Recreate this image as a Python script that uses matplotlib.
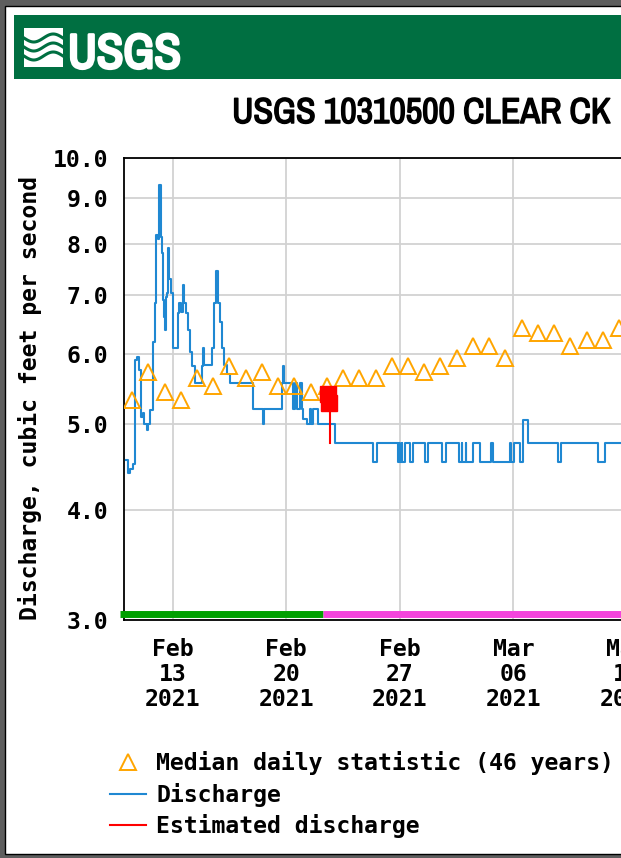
import numpy as np
import pandas as pd
import matplotlib
matplotlib.use("Agg")
import matplotlib.pyplot as plt
import matplotlib.dates as mdates
from matplotlib import font_manager, patheffects
from matplotlib.font_manager import FontProperties
from matplotlib.lines import Line2D
from matplotlib.patches import Rectangle
from matplotlib.ticker import NullLocator


W, H = 621, 858
start = pd.Timestamp("2021-02-10")

# Discharge, 15-min record (days after Feb 10 00:00, cfs)
q_days = [0.10, 0.25, 0.40, 0.55, 0.68, 0.82, 0.92, 1.05, 1.15, 1.25, 1.40, 1.50,
          1.60, 1.77, 1.88, 1.97, 2.08, 2.18, 2.26, 2.32, 2.38, 2.45, 2.52, 2.60,
          2.65, 2.73, 2.80, 2.88, 3.00, 3.30, 3.40, 3.50, 3.62, 3.70, 3.80, 3.93,
          4.05, 4.17, 4.37, 4.78, 4.85, 4.95, 5.45, 5.55, 5.68, 5.78, 5.90, 6.01,
          6.15, 6.35, 6.53, 7.96, 8.55, 8.62, 9.71, 9.78, 9.85, 10.39, 10.53, 10.63,
          10.84, 10.94, 11.05, 11.25, 11.45, 11.55, 11.66, 11.97, 13.00,
          15.33, 15.60, 16.89, 16.95, 17.00, 17.10, 17.15, 17.30, 17.61, 17.78,
          18.53, 18.74, 19.60, 19.87, 20.62, 20.80, 20.85, 21.05, 21.10, 21.51,
          21.92, 22.64, 22.74, 23.77, 23.87, 24.01, 24.38, 24.59, 24.90, 26.74,
          26.90, 29.20, 29.62, 32.00]
q_cfs = [4.55, 4.40, 4.45, 4.50, 5.90, 5.96, 5.76, 5.09, 5.15, 5.00, 4.92, 5.00,
         5.19, 6.19, 6.85, 8.18, 8.10, 9.32, 8.14, 7.81, 6.91, 6.60, 6.39, 6.96,
         7.04, 7.91, 7.30, 7.04, 6.09, 6.68, 6.85, 6.70, 7.18, 6.85, 6.68, 6.39,
         6.03, 5.81, 5.56, 5.81, 6.09, 5.83, 6.09, 6.85, 7.44, 6.85, 6.53, 6.09,
         5.83, 5.70, 5.56, 5.20, 5.00, 5.20, 5.56, 5.82, 5.56, 5.20, 5.56, 5.20,
         5.56, 5.20, 5.07, 5.00, 5.20, 5.00, 5.20, 5.00, 4.76,
         4.53, 4.76, 4.53, 4.76, 4.53, 4.76, 4.53, 4.76, 4.53, 4.76,
         4.53, 4.76, 4.53, 4.76, 4.53, 4.76, 4.53, 4.76, 4.53, 4.76,
         4.53, 4.76, 4.53, 4.76, 4.53, 4.76, 4.53, 5.05, 4.76, 4.53,
         4.76, 4.53, 4.76, 4.76]

# Estimated discharge
est_days = [12.60, 12.66, 12.72, 12.72]
est_cfs = [5.40, 5.28, 5.25, 4.76]

# Median daily statistic (46 years), one value per day from Feb 10
med_cfs = [5.32, 5.72, 5.43, 5.32, 5.64, 5.52, 5.82, 5.64, 5.72, 5.52, 5.52,
           5.43, 5.52, 5.64, 5.64, 5.64, 5.82, 5.82, 5.73, 5.82, 5.94, 6.13,
           6.13, 5.94, 6.42, 6.33, 6.33, 6.13, 6.22, 6.22, 6.42]

approved_end = 12.25  # days after start: approved -> provisional

y_ticks = [3, 4, 5, 6, 7, 8, 9, 10]
x_ticks = ["2021-02-13", "2021-02-20", "2021-02-27", "2021-03-06", "2021-03-13"]
x_ticklabels = ["Feb\n13\n2021", "Feb\n20\n2021", "Feb\n27\n2021",
                "Mar\n06\n2021", "Mar\n13\n2021"]
legend_labels = ["Median daily statistic (46 years)", "Discharge",
                 "Estimated discharge"]

BLUE = "#1f88d2"
ORANGE = "#ffa500"
MONO = {"family": "DejaVu Sans Mono", "weight": "bold", "size": 16.7}


def weight_num(w):
    try:
        return int(w)
    except (TypeError, ValueError):
        return {"light": 300, "normal": 400, "regular": 400, "book": 400,
                "medium": 500, "semibold": 600, "demibold": 600, "bold": 700,
                "heavy": 800, "black": 900}.get(str(w).lower(), 400)


# Arial Narrow look for the title / logo.  A narrow family that has no bold
# cut gets a thin stroke to thicken it; otherwise use the bold condensed one.
fams = {}
for f in font_manager.fontManager.ttflist:
    if ("Narrow" in f.name or "Condensed" in f.name) and "Mono" not in f.name \
            and f.style == "normal":
        fams.setdefault(f.name, []).append(f)
no_bold = [n for n, fs in fams.items() if max(weight_num(x.weight) for x in fs) < 600]
no_bold.sort(key=lambda n: (0 if "Narrow" in n else 1, "DejaVu" in n))
bold_fams = [n for n in fams if n not in no_bold]
bold_fams.sort(key=lambda n: ("DejaVu" in n))

embolden = 0.0
narrow_file = None
if no_bold:
    fs = fams[no_bold[0]]
    narrow_file = min(fs, key=lambda x: abs(weight_num(x.weight) - 400)).fname
    embolden = 1.1
    title_w = 378
elif bold_fams:
    fs = fams[bold_fams[0]]
    narrow_file = max(fs, key=lambda x: weight_num(x.weight)).fname
    title_w = 345

if narrow_file:
    title_fp = FontProperties(fname=narrow_file, size=25)
    logo_fp = FontProperties(fname=narrow_file, size=38)
else:
    title_fp = FontProperties(family="Liberation Sans", weight="bold", size=25)
    logo_fp = FontProperties(family="Liberation Sans", weight="bold", size=38)
    title_w = 378


def to_dates(days):
    return start + pd.to_timedelta(np.asarray(days), unit="D")


def fit_width(txt, target_px):
    # scale a text so that it is as wide as in the reference
    r = fig.canvas.get_renderer()
    w = txt.get_window_extent(renderer=r).width
    txt.set_fontsize(txt.get_fontsize() * target_px / w)


fig = plt.figure(figsize=(W / 100, H / 100), dpi=100)
fig.patch.set_facecolor("#5e5e5e")

# white page with black edge, green banner (kept below the axes)
fig.add_artist(Rectangle((5 / W, 4 / H), 1, (H - 10) / H, transform=fig.transFigure,
                         facecolor="white", edgecolor="black", lw=1, zorder=-10))
fig.add_artist(Rectangle((14 / W, 1 - 79 / H), 1, 64 / H, transform=fig.transFigure,
                         facecolor="#006f41", edgecolor="none", zorder=-9))

# logo: white block with green waves, then USGS
fig.add_artist(Rectangle((24 / W, 1 - 67 / H), 39 / W, 39 / H, transform=fig.transFigure,
                         facecolor="white", edgecolor="none", zorder=-8))
wx = np.linspace(24, 63, 40)
for base in [38, 47, 56]:
    wy = base + 4 * np.sin((wx - 24) / 39 * 2 * np.pi)
    fig.add_artist(Line2D(wx / W, 1 - wy / H, transform=fig.transFigure,
                          color="#006f41", lw=2.2, zorder=-7))
logo = fig.text(68 / W, 1 - 68 / H, "USGS", color="white", fontproperties=logo_fp,
                va="baseline", ha="left")

title = fig.text(421 / W, 1 - 123 / H, "USGS 10310500 CLEAR CK",
                 fontproperties=title_fp, ha="center", va="baseline")
if embolden:
    logo.set_path_effects([patheffects.withStroke(linewidth=2.2, foreground="white")])
    title.set_path_effects([patheffects.withStroke(linewidth=embolden,
                                                   foreground="black")])
fit_width(logo, 113)
fit_width(title, title_w)

ax = fig.add_axes([124 / W, 1 - 620 / H, 568 / W, 462 / H])
ax.set_yscale("log")
ax.set_ylim(3, 10)
ax.set_xlim(start, start + pd.Timedelta(days=35))

ax.grid(True, color="#d2d2d2", lw=1.3)
ax.set_axisbelow(True)

ax.plot(to_dates(q_days), q_cfs, drawstyle="steps-post", color=BLUE, lw=1.5, zorder=3)
ax.plot(pd.date_range("2021-02-10 12:00", periods=len(med_cfs), freq="D"), med_cfs,
        ls="none", marker="^", ms=11, mfc="none", mec=ORANGE, mew=1.4, zorder=4)
ax.plot(to_dates(est_days), est_cfs, drawstyle="steps-post", color="red", lw=1.5,
        zorder=5)
ax.plot(to_dates(est_days[:2]), est_cfs[:2], ls="none", marker="s", ms=12,
        color="red", zorder=5)

# approval status bar along the bottom
x0 = mdates.date2num(start - pd.Timedelta(hours=6))
x1 = mdates.date2num(start + pd.Timedelta(days=approved_end))
x2 = mdates.date2num(start + pd.Timedelta(days=35))
bar = ax.get_xaxis_transform()
ax.plot([x0, x1], [0.014, 0.014], transform=bar, color="#00a000", lw=5,
        solid_capstyle="butt", clip_on=False, zorder=6)
ax.plot([x1, x2], [0.014, 0.014], transform=bar, color="#f444dc", lw=5,
        solid_capstyle="butt", clip_on=False, zorder=6)

ax.set_yticks(y_ticks)
ax.set_yticklabels(["%.1f" % v for v in y_ticks], fontdict=MONO)
ax.yaxis.set_minor_locator(NullLocator())
ax.set_xticks(pd.to_datetime(x_ticks))
ax.set_xticklabels(x_ticklabels, fontdict=MONO)
for t in ax.get_xticklabels():
    t.set_linespacing(1.1)
ax.tick_params(axis="y", length=0, pad=11.5)
ax.tick_params(axis="x", length=0, pad=13)
for s in ax.spines.values():
    s.set_linewidth(1.3)

fig.text(30 / W, 1 - 398 / H, "Discharge, cubic feet per second", rotation=90,
         ha="center", va="center", fontdict=MONO)

handles = [Line2D([], [], ls="none", marker="^", ms=11, mfc="none", mec=ORANGE, mew=1.4),
           Line2D([], [], color=BLUE, lw=1.5),
           Line2D([], [], color="red", lw=1.5)]
fig.legend(handles, legend_labels, loc="upper left",
           bbox_to_anchor=(110 / W, 1 - 751 / H), frameon=False,
           prop={"family": "DejaVu Sans Mono", "weight": "bold", "size": 16.7},
           handlelength=1.55, handletextpad=0.45, labelspacing=0.33,
           borderpad=0, borderaxespad=0)

fig.savefig("out.png", dpi=100, facecolor=fig.get_facecolor())
